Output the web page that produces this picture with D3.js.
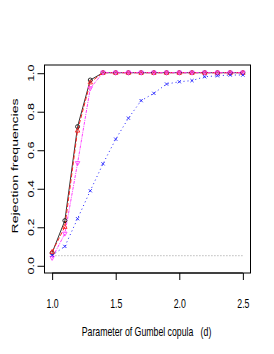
<!DOCTYPE html>
<html><head><meta charset="utf-8">
<script src="https://cdn.jsdelivr.net/npm/d3@7"></script>
<style>body{margin:0;background:#fff}svg{display:block}text{font-family:"Liberation Sans",Arial,sans-serif;fill:#000}</style>
</head><body><svg id="c" width="274" height="354"></svg>
<script>
const dParam = [1.0,1.1,1.2,1.3,1.4,1.5,1.6,1.7,1.8,1.9,2.0,2.1,2.2,2.3,2.4,2.5];
const seriesBlack   = [0.065,0.232,0.72,0.962,1,1,1,1,1,1,1,1,1,1,1,1];
const seriesRed     = [0.07,0.20,0.70,0.95,1,1,1,1,1,1,1,1,1,1,1,1];
const seriesMagenta = [0.038,0.164,0.53,0.919,1,1,1,1,1,1,1,1,1,1,1,1];
const seriesBlue    = [0.052,0.098,0.242,0.387,0.527,0.655,0.764,0.855,0.893,0.941,0.953,0.959,0.979,0.984,0.988,0.988];
const nominalLevel = 0.05;
const xTicks = [1.0,1.5,2.0,2.5];
const yTicks = [0.0,0.2,0.4,0.6,0.8,1.0];

const svg = d3.select("#c");
const L=44.5, R=250.5, T=65, B=273;
const x = d3.scaleLinear().domain([0.94,2.56]).range([L,R]);
const y = d3.scaleLinear().domain([-0.04,1.04]).range([B,T]);
const SX = 0.7, FS = 12.5;

svg.append("line").attr("x1",x(1)).attr("x2",x(2.5)).attr("y1",y(nominalLevel)).attr("y2",y(nominalLevel))
  .attr("stroke","#c8c8c8").attr("stroke-width",1.2).attr("stroke-dasharray","1.5,1.5");

const series = [
  {v:seriesBlack, c:"#000000", dash:null, pch:"circle", w:0.8},
  {v:seriesRed, c:"#ff2020", dash:"4,2", pch:"tri", w:1},
  {v:seriesMagenta, c:"#ff40ff", dash:"3,1,1,1", pch:"tridown", w:1},
  {v:seriesBlue, c:"#2020ff", dash:"1,3", pch:"x", w:1}
];
const line = d3.line().x((d,i)=>x(dParam[i])).y(d=>y(d));
series.forEach(s=>{
  const p = svg.append("path").attr("d",line(s.v)).attr("fill","none").attr("stroke",s.c).attr("stroke-width",s.w);
  if(s.dash) p.attr("stroke-dasharray",s.dash);
});
series.forEach(s=>{
  const g = svg.append("g");
  s.v.forEach((v,i)=>{
    const cx=x(dParam[i]), cy=y(v), r=2;
    if(s.pch==="circle") g.append("circle").attr("cx",cx).attr("cy",cy).attr("r",r).attr("fill","none").attr("stroke",s.c).attr("stroke-width",0.8);
    else if(s.pch==="tri") g.append("path").attr("d",`M${cx},${cy-r*1.2}L${cx+r*1.1},${cy+r*0.8}L${cx-r*1.1},${cy+r*0.8}Z`).attr("fill","none").attr("stroke",s.c).attr("stroke-width",0.9);
    else if(s.pch==="tridown") g.append("path").attr("d",`M${cx},${cy+r*1.2}L${cx+r*1.1},${cy-r*0.8}L${cx-r*1.1},${cy-r*0.8}Z`).attr("fill","none").attr("stroke",s.c).attr("stroke-width",0.9);
    else g.append("path").attr("d",`M${cx-1.6},${cy-1.6}L${cx+1.6},${cy+1.6}M${cx-1.6},${cy+1.6}L${cx+1.6},${cy-1.6}`).attr("stroke",s.c).attr("stroke-width",0.9);
  });
});

svg.append("rect").attr("x",L).attr("y",T).attr("width",R-L).attr("height",B-T).attr("fill","none").attr("stroke","#000").attr("stroke-width",1);

const xa = svg.append("g").attr("transform",`translate(0,${B})`)
  .call(d3.axisBottom(x).tickValues(xTicks).tickFormat(d3.format(".1f")).tickSize(7).tickSizeOuter(0));
xa.select(".domain").attr("d",`M${x(1)},0H${x(2.5)}`);
xa.selectAll(".tick text").attr("font-size",FS).attr("y",null).attr("dy",null)
  .attr("transform",`translate(0,35) scale(${SX},1)`);
const ya = svg.append("g").attr("transform",`translate(${L},0)`)
  .call(d3.axisLeft(y).tickValues(yTicks).tickFormat(d3.format(".1f")).tickSize(7).tickSizeOuter(0));
ya.select(".domain").attr("d",`M0,${y(0)}V${y(1)}`);
ya.selectAll(".tick text").attr("font-size",FS).attr("x",null).attr("dy",null).attr("y",null)
  .attr("text-anchor","middle")
  .attr("transform",`translate(-11,0) scale(${SX},1) rotate(-90)`);
ya.selectAll(".tick line").attr("transform","translate(0,0.5)");

svg.append("text").attr("transform",`translate(${(x(1)+x(2.5))/2 - 1},336) scale(${SX},1)`)
  .attr("text-anchor","middle").attr("font-size",FS)
  .attr("xml:space","preserve").style("white-space","pre")
  .text("Parameter of Gumbel copula   (d)");
svg.append("text").attr("transform",`translate(18,166) scale(${SX},1) rotate(-90)`)
  .attr("text-anchor","middle").attr("font-size",FS)
  .attr("textLength",135).attr("lengthAdjust","spacingAndGlyphs")
  .text("Rejection frequencies");
</script></body></html>
